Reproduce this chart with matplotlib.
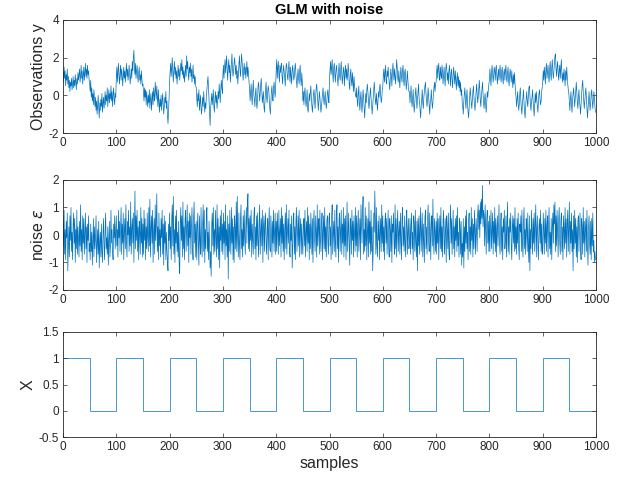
import numpy as np
import matplotlib
matplotlib.use('Agg')
import matplotlib.pyplot as plt

plt.rcParams['font.family'] = ['Liberation Sans', 'DejaVu Sans']
plt.rcParams['axes.unicode_minus'] = False

LINE = '#0072BD'
AXC = '#262626'

# observations y (in tenths), 50 samples per row
y_tenths = [
    12,7,15,9,13,5,11,8,14,6, 10,4,8,2,7,5,9,3,6,10, 4,8,5,11,7,3,9,6,12,8, 11,14,7,10,16,9,13,6,11,15, 8,12,17,10,14,9,16,11,13,8,
    6,2,8,-1,4,-3,1,-5,3,-2, -6,-1,-8,-3,-10,-5,0,-7,-12,-4, -8,-2,-6,1,-9,-4,-1,-7,-3,2, -5,0,-3,4,-6,-1,3,-4,1,-2, 5,-3,2,-6,0,4,-2,-5,1,-1,
    9,15,7,13,17,10,6,12,16,8, 14,11,5,10,15,9,13,7,12,17, 10,14,8,11,16,12,6,10,14,9, 18,13,20,24,15,11,17,9,13,16, 10,7,12,15,8,11,6,13,9,5,
    6,1,-3,4,-1,3,-5,2,-2,-6, 0,-4,3,-7,-2,1,-8,-3,2,-5, 4,0,-3,7,2,-2,5,-1,-6,3, -4,-9,-2,-6,0,-8,-3,1,-5,-10, -6,-1,-4,2,-7,-3,-11,-15,-8,-2,
    8,13,17,10,15,20,12,7,14,18, 11,15,9,13,6,11,16,10,14,8, 12,17,13,19,11,15,9,13,7,12, 16,10,21,14,18,11,8,15,12,17, 10,14,7,12,16,9,11,6,10,5,
    4,-2,-6,1,-3,3,-8,-4,0,-7, -10,-5,-1,-6,2,-3,-9,-4,-7,0, 3,7,10,4,-2,-9,-16,-7,-3,1, -5,-1,3,-6,-9,-2,2,-4,0,-7, -3,2,-2,6,1,-4,3,8,4,1,
    11,16,9,14,19,12,17,21,13,8, 15,19,12,16,7,12,18,22,14,10, 13,17,20,15,11,16,9,13,6,11, 17,21,14,10,16,22,18,12,8,14, 17,11,15,9,13,18,10,15,12,7,
    4,-3,2,6,-1,-5,3,8,0,-2, -6,1,4,-4,-7,-2,5,7,2,-3, 1,6,9,3,-4,-1,2,-6,-9,-3, 3,7,-1,-4,2,5,3,-2,-7,-10, -4,2,5,-1,-3,4,7,2,-1,5,
    14,19,9,15,18,11,7,16,12,15, 17,10,6,13,16,12,9,5,13,17, 15,10,8,14,18,11,7,15,10,6, 13,16,12,8,10,15,17,11,8,4, 10,14,9,6,13,16,8,5,12,7,
    -3,2,-5,1,4,-2,-6,-3,3,-7, -9,-4,1,-3,2,5,-2,-6,-9,-4, 1,3,-3,-7,-2,4,6,1,-4,-8, -3,2,-1,-6,-9,-6,-2,1,4,-2, -5,-1,2,-4,-7,-3,1,3,-2,-4,
    9,14,18,11,15,19,12,7,15,17, 11,7,13,16,12,9,5,13,17,10, 8,14,18,11,6,10,15,12,5,13, 16,9,14,8,11,17,13,6,3,11, 14,8,5,12,7,2,10,5,2,0,
    -1,4,-3,-6,1,5,-4,-8,-2,2, -5,-9,-3,3,-1,-7,-12,-6,1,-4, 3,6,2,-3,-7,-4,1,4,-2,-5, -10,-6,-1,3,7,2,-3,-5,1,-4, -8,-3,2,-1,4,6,0,-4,-2,3,
    5,11,14,7,12,16,8,6,13,10, 15,10,7,3,9,14,11,5,12,17, 13,8,14,10,6,12,19,15,9,7, 13,8,4,11,15,10,7,13,16,8, 5,12,14,9,3,7,13,8,4,2,
    2,-4,1,5,-3,-6,-1,3,-5,-9, -4,1,4,-2,-7,-3,2,6,-1,-4, -8,-12,-6,-2,3,-4,-7,-1,2,5, 7,1,-3,-6,-2,4,-1,-5,-10,-4, -2,3,-3,-7,-4,1,4,7,2,6,
    7,13,16,9,14,17,10,8,15,11, 9,16,13,6,11,15,9,5,13,17, 14,8,12,6,13,16,10,5,12,14, 8,4,11,15,10,6,13,8,3,9, 12,5,10,4,8,2,7,0,3,-4,
    -6,-10,-3,1,4,-3,-7,-1,3,-5, -9,-12,-6,-1,4,0,-4,-7,-2,2, 5,-1,-5,-8,-3,3,6,1,-4,-1, 4,8,2,-3,-6,0,3,7,1,-4, -7,-2,1,-5,-9,-4,2,-1,3,6,
    8,14,9,5,12,16,11,7,10,15, 13,8,14,16,10,6,11,14,8,12, 16,10,7,13,15,9,6,12,14,8, 13,16,9,7,12,15,8,5,11,14, 10,7,13,8,4,11,6,12,7,2,
    -1,-6,-2,2,-4,-8,-5,1,4,-3, -7,-10,-4,-1,3,-4,-9,-12,-6,-2, 2,-3,-6,-1,4,5,0,-5,-8,-3, -1,3,-3,-7,-11,-5,1,-4,2,-2, -6,-9,-3,1,3,-2,-5,-3,2,4,
    7,13,8,15,11,6,14,17,9,12, 16,10,7,14,18,11,8,15,19,12, 9,13,17,21,22,14,10,15,18,12, 8,13,16,9,15,19,11,7,12,8, 14,9,5,13,8,15,10,6,3,1,
    -4,-8,-2,2,-5,-9,-3,1,4,-1, -6,-2,3,7,1,-4,-7,-1,3,-3, -6,-10,-4,1,5,8,2,-3,-7,-3, 1,4,-1,-6,-12,-7,-2,2,-4,-8, -4,1,3,-3,-7,-2,2,-1,-6,-9,
]

# noise epsilon (in tenths)
noise_tenths = [
    6,-4,9,-7,2,-9,5,-1,8,-13, -5,3,-8,7,-2,10,-6,1,-9,4, 8,-3,6,-10,2,-5,9,-7,3,-1, -8,5,-4,11,-6,2,-9,7,-3,6, -7,1,8,-5,3,-10,4,-2,7,-6,
    -3,-9,4,-6,1,-11,-2,6,-8,3, -5,-1,7,-10,-4,2,-7,5,-12,-3, 1,-8,4,-6,-10,0,6,-4,-9,2, 8,-5,-1,-7,3,-11,-2,5,-8,-4, 9,-3,2,-6,-9,4,-1,7,-5,1,
    7,-4,2,-8,9,-1,5,-6,3,10, -7,4,-3,8,-9,1,6,-5,11,-2, -8,5,0,9,-6,3,-4,12,-7,2, 6,-3,8,-10,4,16,-5,7,-2,9, -6,3,-9,5,1,-7,10,-3,6,-8,
    4,-7,9,-2,6,-9,3,-5,8,-1, -6,10,-4,13,-8,2,7,-3,9,-10, 1,6,-7,11,-2,5,15,-6,3,-9, 8,-4,2,-8,6,-1,9,-7,4,-11, 7,-3,5,-9,1,-6,-10,-13,4,-2,
    8,-5,3,-9,6,11,-4,14,-7,2, -10,7,-3,9,-6,1,-8,5,-11,-14, 4,10,-2,7,-8,12,-5,3,-9,6, 9,-6,2,11,-4,5,-10,8,-1,7, -7,3,10,-5,-9,6,12,-3,4,-8,
    5,-9,3,8,-4,-11,7,-2,-7,10, -3,-8,4,11,-6,9,-10,2,-5,7, 10,-6,1,-9,5,-3,-12,-6,-15,4, 8,-4,10,-7,2,-6,9,-1,-8,11, -5,6,-9,3,-12,7,-2,9,-6,4,
    -7,8,-3,5,-9,11,-4,2,-8,7, -16,4,-6,9,-1,-7,10,-3,6,-9, 3,-10,7,2,-5,12,-6,14,-2,-8, 8,-3,-9,6,11,-5,2,-8,7,-4, 9,-1,-7,4,10,-3,11,15,-5,6,
    -6,7,-2,9,-8,4,-1,-7,6,10, -5,3,-9,7,-4,8,-2,-8,5,11, -7,1,6,-4,9,-10,3,7,-6,4, 8,-3,-7,2,6,-9,4,10,-5,-6, 7,2,-8,5,-3,9,-6,1,8,-7,
    5,-6,8,2,-7,9,-4,1,6,-8, 10,-3,7,-6,4,-9,2,8,-5,11, -7,1,6,-3,9,-6,-8,4,-2,7, -12,-4,6,8,-7,3,-9,5,10,-6, 1,7,-4,9,-8,2,6,-7,4,-3,
    -7,3,6,-4,9,-8,1,5,-6,10, -3,7,-9,4,-5,8,2,-7,6,-10, 4,9,-2,-6,7,1,-8,11,-4,3, 6,-7,9,-2,-6,4,8,-9,1,7, -5,10,-6,3,-8,5,7,-3,-7,6,
    8,-4,3,-9,6,11,-7,1,5,-6, 9,-3,-8,7,11,-5,3,-10,6,8, -6,1,9,-7,4,-3,10,-8,6,-4, 7,-9,2,12,-6,1,8,-4,-11,6, 3,-7,9,-2,5,-8,7,1,-6,10,
    -4,7,-8,3,9,-6,1,6,-9,11, 4,-3,8,14,-7,2,-6,10,-4,7, -9,1,6,-8,12,-3,5,-7,9,-6, 3,-13,-5,8,1,16,6,-7,10,-4, -8,5,-2,7,-9,1,6,-6,11,-3,
    7,-6,3,-9,5,8,-3,6,-7,1, 9,-4,-8,6,2,-6,7,-10,4,1, 8,-3,-7,11,-5,6,-8,3,9,-6, 1,5,-7,8,-2,-9,6,10,-4,3, -6,7,-3,-8,5,9,-7,1,6,-5,
    -3,6,-7,3,8,-5,1,-9,7,4, -6,9,-3,-8,5,-13,6,-4,7,-7, 2,10,-6,1,8,-8,4,-3,-10,6, 9,-5,3,-7,6,11,-2,-6,8,1, -9,5,7,-4,13,-2,-7,6,1,-6,
    5,-7,8,-3,6,-9,1,7,-5,10, -6,3,-8,5,9,-3,-7,6,1,-10, 7,2,-5,8,-6,-9,4,11,-3,6, -7,1,9,-5,3,-8,6,-2,7,-6, 10,-4,1,-8,6,3,-7,5,-11,-3,
    -8,6,-12,3,-6,7,-3,9,-5,1, -9,5,8,-6,3,-7,10,-2,6,-8, 4,-5,9,1,-7,6,2,-6,8,11, 2,9,-1,12,4,13,6,18,3,9, 7,-4,11,2,-7,6,9,-3,5,-6,
    7,-6,3,9,-5,1,8,-7,5,-3, 10,-6,6,-8,2,7,-4,1,11,-3, -7,4,8,-6,3,-9,6,1,9,-5, -2,7,-8,4,12,-6,3,-7,6,1, 8,-4,-9,3,7,-3,6,-6,10,-5,
    3,-7,6,-3,8,-5,-9,4,1,7, -6,9,-3,-8,5,10,-5,2,-7,6, 3,-6,8,-4,-10,7,-13,2,-5,9, 1,-7,6,-3,8,-6,4,11,-8,2, 7,-5,-9,3,6,-3,9,-6,4,-7,
    -5,8,2,-7,6,-3,9,-6,3,7, -8,4,10,-5,1,-7,6,-9,3,8, -3,11,4,12,-6,7,-4,9,1,-8, 6,10,-3,-7,5,8,-6,3,-9,7, 2,-5,10,-3,6,-8,4,9,-6,3,
    12,-7,5,-3,8,-6,2,-13,7,-5, 9,-3,6,-8,3,-10,5,7,-6,1, 8,-5,-9,6,3,-7,10,-3,5,-8, 2,6,-6,9,-4,-11,3,7,-3,-7, 5,-9,6,-4,8,-6,-2,-10,-6,-9,
]

# design regressor X: on/off blocks of 50 samples
x_edges  = [0, 50, 100, 150, 200, 250, 300, 350, 400, 450, 500,
            550, 600, 650, 700, 750, 800, 850, 900, 950, 1000]
x_levels = [1, 0, 1, 0, 1, 0, 1, 0, 1, 0, 1, 0, 1, 0, 1, 0, 1, 0, 1, 0]

xticks = [0, 100, 200, 300, 400, 500, 600, 700, 800, 900, 1000]

assert len(y_tenths) == 1000 and len(noise_tenths) == 1000, (len(y_tenths), len(noise_tenths))
y = np.array(y_tenths) / 10.0
eps = np.array(noise_tenths) / 10.0
t = np.arange(1000)


def matlab_ax(ax, ylim, yticks, ylabel, ylabels=None):
    ax.set_xlim(0, 1000)
    ax.set_ylim(*ylim)
    ax.set_xticks(xticks)
    ax.set_yticks(yticks)
    if ylabels:
        ax.set_yticklabels(ylabels)
    ax.tick_params(direction='in', top=True, right=True, length=3,
                   width=0.5, colors=AXC, labelsize=8.5, pad=3)
    for s in ax.spines.values():
        s.set_color(AXC)
        s.set_linewidth(0.6)
    ax.set_ylabel(ylabel, fontsize=11.5, color=AXC, labelpad=2)


fig = plt.figure(figsize=(6.27, 4.86), dpi=100)
W, H = 627, 486
L, R = 63, 596
ax1 = fig.add_axes([L / W, 1 - 133 / H, (R - L) / W, 113 / H])
ax2 = fig.add_axes([L / W, 1 - 290 / H, (R - L) / W, 110 / H])
ax3 = fig.add_axes([L / W, 1 - 437 / H, (R - L) / W, 105 / H])

ax1.plot(t, y, color=LINE, linewidth=0.5)
matlab_ax(ax1, (-2, 4), [-2, 0, 2, 4], 'Observations y')
ax1.set_title('GLM with noise', fontsize=10.5, fontweight='bold', color='black', pad=4)

ax2.plot(t, eps, color=LINE, linewidth=0.5)
matlab_ax(ax2, (-2, 2), [-2, -1, 0, 1, 2], r'noise $\epsilon$')

ax3.stairs(x_levels, x_edges, baseline=None, color=LINE, linewidth=0.5)
matlab_ax(ax3, (-0.5, 1.5), [-0.5, 0, 0.5, 1, 1.5], 'X',
          ['-0.5', '0', '0.5', '1', '1.5'])
ax3.set_xlabel('samples', fontsize=11.5, color=AXC, labelpad=2)

fig.savefig('out.png', dpi=100)
